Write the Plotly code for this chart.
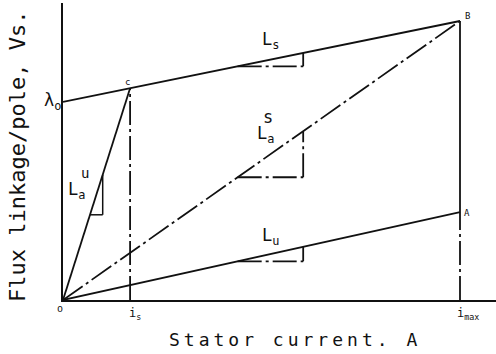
import plotly.graph_objects as go

# Stator current axis (normalised): origin, saturation current i_s, maximum current i_max
i_s = 0.169
i_max = 1.0

# Flux linkage per pole (normalised to the value at point B)
lambda_o = 0.71   # intercept of the saturated line L_s
flux_B = 1.0      # flux at i_max on the saturated curve
flux_A = 0.315    # flux at i_max on the unsaturated line L_u

# derived points on the piecewise characteristic
slope_s = (flux_B - lambda_o) / i_max
flux_C = lambda_o + slope_s * i_s
slope_au = flux_C / i_s
slope_as = flux_B / i_max
slope_u = flux_A / i_max

INK = "#111111"
DASHDOT = "24px,4px,3px,4px"
FONT = "DejaVu Sans Mono"

W, H = 496, 354
L, R, T, B = 63, 0, 3, 54

fig = go.Figure()


def seg(x, y, dash="solid", width=1.8):
    fig.add_trace(go.Scatter(x=x, y=y, mode="lines",
                             line=dict(color=INK, width=width, dash=dash),
                             hoverinfo="skip", showlegend=False, cliponaxis=False))


# main characteristic lines
seg([0, i_max], [lambda_o, flux_B])                 # L_s
seg([0, i_max], [0, flux_B], dash=DASHDOT)           # L_a^s
seg([0, i_s], [0, flux_C])                           # L_a^u
seg([0, i_max], [0, flux_A])                         # L_u

# verticals at i_s and i_max
seg([i_s, i_s], [0, flux_C], dash=DASHDOT)
seg([i_max, i_max], [flux_A, flux_B])
seg([i_max, i_max], [0, flux_A], dash=DASHDOT)

# slope triangles
x1, x2 = 0.44, 0.605
seg([x1, x2], [lambda_o + slope_s * x1] * 2, dash=DASHDOT)
seg([x2, x2], [lambda_o + slope_s * x1, lambda_o + slope_s * x2])
seg([x1, x2], [slope_as * x1] * 2, dash=DASHDOT)
seg([x2, x2], [slope_as * x1, slope_as * x2], dash=DASHDOT)
seg([x1, x2], [slope_u * x1] * 2, dash=DASHDOT)
seg([x2, x2], [slope_u * x1, slope_u * x2])
u1, u2 = 0.068, 0.10
seg([u1, u2], [slope_au * u1] * 2, width=1.5)
seg([u2, u2], [slope_au * u1, slope_au * u2], width=1.5)

ann = []


def label(text, x, y, size=16, xanchor="center", yanchor="middle", **kw):
    # place a text at a pixel position of the page, via paper coordinates
    ann.append(dict(text=text,
                    x=(x - L) / (W - L - R), y=(H - B - y) / (H - T - B),
                    xref="paper", yref="paper", showarrow=False,
                    xanchor=xanchor, yanchor=yanchor,
                    font=dict(family=FONT, size=size, color=INK), **kw))


label("c", 127, 82, size=9)
label("B", 467, 16, size=9)
label("A", 467, 213, size=9)
label("o", 60, 308, size=10)
label("i<sub>s</sub>", 127, 314, size=12, xanchor="left")
label("i<sub>max</sub>", 455, 314, size=12, xanchor="left")
label("λ<sub>o</sub>", 63, 101, size=17, xanchor="right")
label("L<sub>s</sub>", 260, 41, size=17, xanchor="left")
label("L<sub>u</sub>", 260, 236, size=17, xanchor="left")
label("L<sub>a</sub>", 255, 134, size=17, xanchor="left")
label("s", 268, 117, size=17)
label("L<sub>a</sub>", 66, 190, size=17, xanchor="left")
label("u", 85, 173, size=14)

# axis titles
label("Stator current. A", 295, 339, size=18)
label("Flux linkage/pole, Vs.", 17, 157, size=22, textangle=-90)

fig.update_layout(
    width=W, height=H,
    margin=dict(l=L, r=R, t=T, b=B, pad=0),
    paper_bgcolor="white", plot_bgcolor="white",
    annotations=ann,
    xaxis=dict(range=[0, (W - L - R) / 397.0], showline=True, linecolor=INK, linewidth=1.5,
               showgrid=False, zeroline=False, showticklabels=False, ticks=""),
    yaxis=dict(range=[0, 297 / 279.0], showline=True, linecolor=INK, linewidth=1.5,
               showgrid=False, zeroline=False, showticklabels=False, ticks=""),
)

spacing_js = """
var gd = document.getElementById('{plot_id}');
function track(){
  gd.querySelectorAll('.annotation-text').forEach(function(t){
    if (t.textContent.indexOf('Stator') === 0) { t.style.letterSpacing = '4px'; }
  });
}
track();
gd.on('plotly_afterplot', track);
"""

fig.write_html("out.html", post_script=spacing_js, config={"displayModeBar": False})
